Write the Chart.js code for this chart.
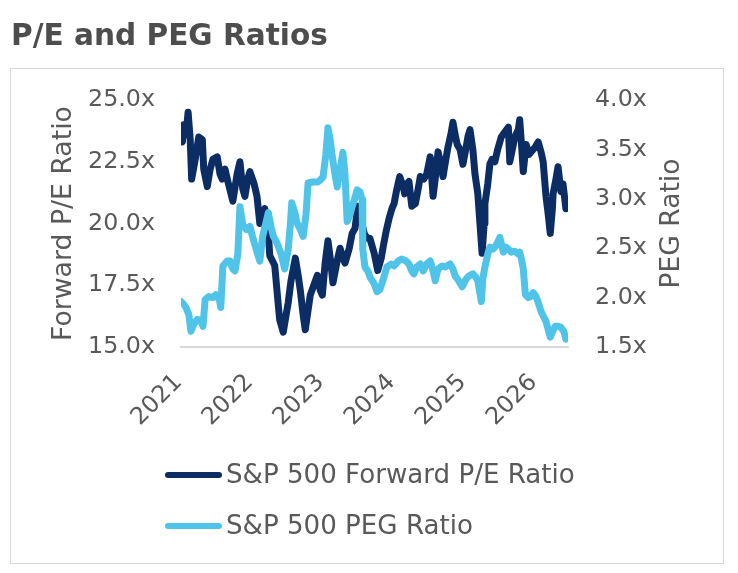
<!DOCTYPE html>
<html>
<head>
<meta charset="utf-8">
<script src="https://cdn.jsdelivr.net/npm/chart.js@4.4.1/dist/chart.umd.min.js"></script>
<style>
html,body{margin:0;padding:0;background:#fff;}
#wrap{position:relative;width:738px;height:573px;}
canvas{display:block;}
</style>
</head>
<body>
<div id="wrap"><canvas id="c" width="738" height="573"></canvas></div>
<script>
const titleText = 'P/E and PEG Ratios';
const seriesNames = ['S&P 500 Forward P/E Ratio', 'S&P 500 PEG Ratio'];
const axisTitles = ['Forward P/E Ratio', 'PEG Ratio'];
const yearTicks = [2021, 2022, 2023, 2024, 2025, 2026];
const yearLabels = ['2021', '2022', '2023', '2024', '2025', '2026'];
const peTicks = [15, 17.5, 20, 22.5, 25];
const pegTicks = [1.5, 2, 2.5, 3, 3.5, 4];

const peDates = [
  2021.00, 2021.02, 2021.04, 2021.07, 2021.10, 2021.13, 2021.15, 2021.20, 2021.25, 2021.30,
  2021.32, 2021.37, 2021.41, 2021.45, 2021.51, 2021.55, 2021.58, 2021.62, 2021.66, 2021.73,
  2021.79, 2021.83, 2021.87, 2021.90, 2021.94, 2021.97, 2022.03, 2022.07, 2022.11, 2022.18,
  2022.23, 2022.25, 2022.32, 2022.37, 2022.39, 2022.44, 2022.48, 2022.51, 2022.55, 2022.61,
  2022.65, 2022.68, 2022.72, 2022.75, 2022.79, 2022.82, 2022.87, 2022.92, 2022.96, 2022.99,
  2023.03, 2023.07, 2023.11, 2023.14, 2023.20, 2023.24, 2023.28, 2023.31, 2023.37, 2023.41,
  2023.45, 2023.49, 2023.54, 2023.58, 2023.62, 2023.66, 2023.72, 2023.77, 2023.82, 2023.85,
  2023.89, 2023.93, 2023.97, 2024.00, 2024.04, 2024.08, 2024.13, 2024.15, 2024.18, 2024.21,
  2024.25, 2024.30, 2024.34, 2024.37, 2024.42, 2024.46, 2024.51, 2024.55, 2024.58, 2024.62,
  2024.66, 2024.69, 2024.73, 2024.76, 2024.80, 2024.83, 2024.86, 2024.89, 2024.93, 2024.97,
  2025.01, 2025.04, 2025.07, 2025.11, 2025.14, 2025.18, 2025.21, 2025.24, 2025.27, 2025.28,
  2025.32, 2025.35, 2025.38, 2025.42, 2025.46, 2025.51, 2025.56, 2025.61, 2025.63, 2025.68,
  2025.70, 2025.75, 2025.77, 2025.80, 2025.82, 2025.86, 2025.90, 2025.93, 2025.99, 2026.03,
  2026.07, 2026.10, 2026.14, 2026.17, 2026.20, 2026.23, 2026.24, 2026.28, 2026.31, 2026.35,
  2026.38, 2026.42
];
const peValues = [
  23.7, 23.3, 24.0, 23.6, 24.5, 23.4, 21.8, 22.6, 23.5, 23.4,
  22.2, 21.5, 22.2, 22.6, 22.7, 22.0, 21.8, 22.2, 21.7, 20.9,
  22.0, 22.5, 21.4, 21.1, 21.8, 22.1, 21.6, 21.1, 20.0, 20.6,
  19.6, 18.7, 18.3, 16.7, 16.1, 15.6, 16.3, 16.8, 17.7, 18.6,
  17.9, 17.3, 16.3, 15.7, 16.5, 17.1, 17.5, 17.9, 17.3, 17.1,
  18.4, 19.3, 18.4, 17.6, 18.5, 19.0, 18.6, 18.4, 19.0, 19.6,
  19.8, 20.7, 20.1, 19.6, 19.4, 19.4, 18.8, 18.1, 18.6, 19.1,
  19.7, 20.2, 20.6, 20.8, 21.4, 21.9, 21.5, 21.2, 21.6, 21.7,
  20.7, 20.8, 21.4, 21.9, 21.8, 22.0, 22.7, 21.1, 21.8, 22.9,
  22.4, 21.9, 22.6, 23.1, 23.6, 24.1, 23.6, 23.2, 23.0, 22.4,
  23.0, 23.5, 23.8, 23.0, 22.0, 21.2, 20.0, 18.8, 20.0, 20.8,
  21.6, 22.4, 22.6, 22.5, 23.0, 23.5, 23.7, 23.9, 22.5, 23.2,
  23.5, 23.8, 24.2, 23.0, 22.1, 23.2, 22.8, 22.9, 23.1, 23.3,
  22.9, 22.5, 21.1, 20.4, 19.6, 20.6, 21.2, 21.8, 22.3, 21.3,
  21.6, 20.6
];

const pegDates = [
  2021.00, 2021.04, 2021.07, 2021.11, 2021.14, 2021.18, 2021.23, 2021.28, 2021.31, 2021.34,
  2021.39, 2021.45, 2021.49, 2021.54, 2021.56, 2021.59, 2021.65, 2021.69, 2021.73, 2021.76,
  2021.80, 2021.83, 2021.87, 2021.92, 2021.97, 2022.01, 2022.07, 2022.11, 2022.15, 2022.20,
  2022.23, 2022.27, 2022.30, 2022.34, 2022.37, 2022.41, 2022.46, 2022.51, 2022.54, 2022.56,
  2022.61, 2022.63, 2022.68, 2022.72, 2022.76, 2022.79, 2022.85, 2022.92, 2022.96, 2023.00,
  2023.04, 2023.07, 2023.10, 2023.13, 2023.17, 2023.20, 2023.24, 2023.28, 2023.31, 2023.34,
  2023.38, 2023.41, 2023.45, 2023.48, 2023.52, 2023.55, 2023.56, 2023.59, 2023.63, 2023.66,
  2023.72, 2023.76, 2023.80, 2023.85, 2023.90, 2023.96, 2024.00, 2024.06, 2024.11, 2024.17,
  2024.21, 2024.25, 2024.28, 2024.32, 2024.37, 2024.41, 2024.46, 2024.51, 2024.55, 2024.58,
  2024.62, 2024.68, 2024.72, 2024.79, 2024.83, 2024.86, 2024.91, 2024.96, 2025.00, 2025.04,
  2025.08, 2025.11, 2025.15, 2025.18, 2025.23, 2025.25, 2025.28, 2025.32, 2025.35, 2025.39,
  2025.42, 2025.46, 2025.49, 2025.54, 2025.58, 2025.61, 2025.65, 2025.70, 2025.75, 2025.77,
  2025.80, 2025.82, 2025.85, 2025.89, 2025.92, 2025.96, 2026.00, 2026.04, 2026.07, 2026.11,
  2026.14, 2026.17, 2026.20, 2026.23, 2026.27, 2026.31, 2026.35, 2026.39, 2026.42
];
const pegValues = [
  1.96, 1.93, 1.90, 1.83, 1.66, 1.73, 1.78, 1.76, 1.71, 1.98,
  2.01, 2.00, 2.03, 1.98, 1.90, 2.32, 2.37, 2.37, 2.29, 2.27,
  2.44, 2.92, 2.74, 2.69, 2.72, 2.61, 2.46, 2.37, 2.62, 2.77,
  2.86, 2.71, 2.62, 2.57, 2.52, 2.44, 2.29, 2.49, 2.74, 2.96,
  2.84, 2.76, 2.69, 2.62, 2.84, 3.16, 3.17, 3.17, 3.19, 3.22,
  3.45, 3.72, 3.60, 3.43, 3.24, 3.12, 3.29, 3.47, 3.24, 2.77,
  2.84, 2.92, 3.01, 3.09, 3.07, 2.99, 2.49, 2.31, 2.27, 2.21,
  2.14, 2.06, 2.08, 2.19, 2.31, 2.34, 2.32, 2.37, 2.39, 2.37,
  2.34, 2.27, 2.24, 2.31, 2.34, 2.27, 2.34, 2.37, 2.27, 2.17,
  2.29, 2.32, 2.31, 2.34, 2.29, 2.22, 2.17, 2.11, 2.17, 2.21,
  2.23, 2.24, 2.21, 2.17, 1.96, 2.19, 2.31, 2.44, 2.51, 2.49,
  2.51, 2.56, 2.61, 2.46, 2.51, 2.49, 2.46, 2.47, 2.44, 2.46,
  2.37, 2.29, 2.03, 2.00, 2.01, 2.05, 2.01, 1.93, 1.86, 1.80,
  1.76, 1.68, 1.60, 1.65, 1.71, 1.71, 1.70, 1.66, 1.58
];

const DARK = '#0C2D63';
const LIGHT = '#4FC3E8';
const GRAY = '#595959';
const FONT = '"DejaVu Sans", sans-serif';

const mctx = document.createElement('canvas').getContext('2d');
function fit(text, target, weight) {
  mctx.font = (weight || 'normal') + ' 100px ' + FONT;
  return 100 * target / mctx.measureText(text).width;
}
const tickSize = fit('25.0x', 67);
const xTickSize = tickSize;
const axisTitleSize = fit(axisTitles[0], 235);
const pegTitleSize = fit(axisTitles[1], 130);
const legendSize = fit(seriesNames[0], 349);
const titleSize = fit(titleText, 317, 'bold');
const xLH = xTickSize * 1.2;

const decor = {
  id: 'decor',
  afterDraw(chart) {
    const ctx = chart.ctx;
    const ca = chart.chartArea;
    ctx.save();
    ctx.strokeStyle = '#D9D9D9';
    ctx.lineWidth = 1;
    ctx.strokeRect(10.5, 68.5, 713, 495);
    ctx.fillStyle = '#4D4D4D';
    ctx.font = 'bold ' + titleSize + 'px ' + FONT;
    ctx.textAlign = 'left';
    ctx.textBaseline = 'alphabetic';
    ctx.fillText(titleText, 11, 45);

    ctx.save();
    ctx.translate(ca.right + 104, (ca.top + ca.bottom) / 2);
    ctx.rotate(-Math.PI / 2);
    ctx.textAlign = 'center';
    ctx.textBaseline = 'middle';
    ctx.fillStyle = GRAY;
    ctx.font = pegTitleSize + 'px ' + FONT;
    ctx.fillText(axisTitles[1], 0, 0);
    ctx.restore();

    const rows = [ca.bottom + 128, ca.bottom + 179];
    chart.data.datasets.forEach((ds, i) => {
      const y = rows[i];
      ctx.strokeStyle = ds.borderColor;
      ctx.lineWidth = 6;
      ctx.lineCap = 'round';
      ctx.beginPath();
      ctx.moveTo(ca.left - 13, y);
      ctx.lineTo(ca.left + 38, y);
      ctx.stroke();
      ctx.fillStyle = GRAY;
      ctx.font = legendSize + 'px ' + FONT;
      ctx.textAlign = 'left';
      ctx.textBaseline = 'middle';
      ctx.fillText(ds.label, ca.left + 45, y + 1);
    });
    ctx.restore();
  }
};

new Chart(document.getElementById('c'), {
  type: 'line',
  data: {
    datasets: [
      {
        label: seriesNames[0],
        data: peDates.map((d, i) => ({x: d, y: peValues[i]})),
        yAxisID: 'y',
        borderColor: DARK,
        borderWidth: 7,
        pointRadius: 0,
        tension: 0,
        borderJoinStyle: 'round',
        borderCapStyle: 'round',
        order: 1
      },
      {
        label: seriesNames[1],
        data: pegDates.map((d, i) => ({x: d, y: pegValues[i]})),
        yAxisID: 'y2',
        borderColor: LIGHT,
        borderWidth: 7,
        pointRadius: 0,
        tension: 0,
        borderJoinStyle: 'round',
        borderCapStyle: 'round',
        order: 0
      }
    ]
  },
  options: {
    responsive: false,
    animation: false,
    events: [],
    layout: {padding: {top: 100, left: 30, right: 70, bottom: 146}},
    plugins: {legend: {display: false}, tooltip: {enabled: false}},
    scales: {
      x: {
        type: 'linear',
        min: 2021,
        max: 2026.45,
        afterBuildTicks: s => { s.ticks = yearTicks.map(v => ({value: v})); },
        afterFit: s => { s.height = 80; },
        grid: {display: false, drawTicks: false},
        border: {display: true, color: '#D9D9D9', width: 2},
        ticks: {
          autoSkip: false,
          minRotation: 45,
          maxRotation: 45,
          padding: 31.8 - 0.707 * xLH / 2,
          labelOffset: -2.5,
          color: GRAY,
          font: {family: FONT, size: xTickSize, lineHeight: 1.2},
          callback: (v, i) => yearLabels[i]
        }
      },
      y: {
        position: 'left',
        min: 15,
        max: 25,
        afterBuildTicks: s => { s.ticks = peTicks.map(v => ({value: v})); },
        afterFit: s => { s.width = 151; },
        grid: {display: false, drawTicks: false},
        border: {display: false},
        ticks: {
          padding: 26,
          color: GRAY,
          font: {family: FONT, size: tickSize},
          callback: v => Number(v).toFixed(1) + 'x'
        },
        title: {
          display: true,
          text: axisTitles[0],
          color: GRAY,
          font: {family: FONT, size: axisTitleSize, lineHeight: 1.2},
          padding: {top: 34 - axisTitleSize * 0.6, bottom: 0}
        }
      },
      y2: {
        position: 'right',
        min: 1.5,
        max: 4,
        afterBuildTicks: s => { s.ticks = pegTicks.map(v => ({value: v})); },
        afterFit: s => { s.width = 100; },
        grid: {display: false, drawTicks: false},
        border: {display: false},
        ticks: {
          padding: 27,
          color: GRAY,
          font: {family: FONT, size: tickSize},
          callback: v => Number(v).toFixed(1) + 'x'
        }
      }
    }
  },
  plugins: [decor]
});
</script>
</body>
</html>
